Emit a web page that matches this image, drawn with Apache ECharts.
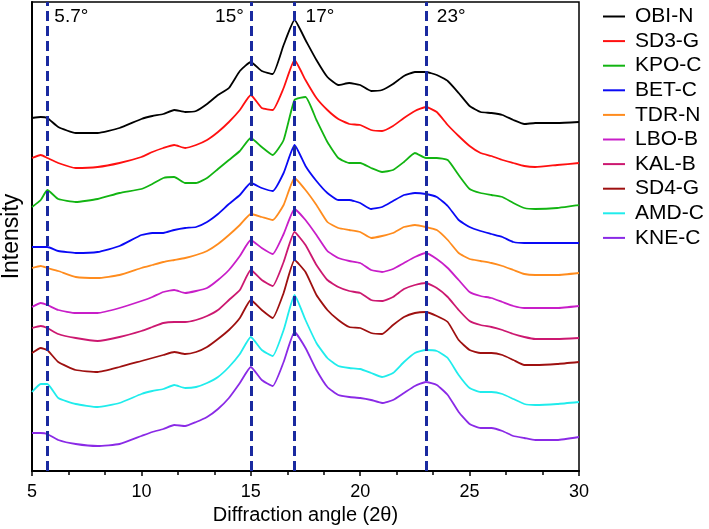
<!DOCTYPE html>
<html>
<head>
<meta charset="utf-8">
<script src="https://cdn.jsdelivr.net/npm/echarts@6/dist/echarts.min.js"></script>
<style>
    html, body { margin: 0; padding: 0; background: #fff; }
    #xrd { width: 709px; height: 529px; }
</style>
</head>
<body>
<div id="xrd"></div>
<script>
// 2θ sampling points shared by all patterns
const angles = [5, 5.4, 5.7, 6.2, 7, 8, 9, 10, 10.5, 11, 11.5, 12, 12.5, 13, 13.5, 14, 14.5, 15, 15.5, 16,
    16.5, 17, 17.5, 18, 18.5, 19, 19.5, 20, 20.5, 21, 21.5, 22, 22.5, 23, 23.5, 24, 24.5, 25, 25.5, 26,
    26.5, 27, 27.5, 28, 29, 30];

const sampleNames = ['OBI-N', 'SD3-G', 'KPO-C', 'BET-C', 'TDR-N', 'LBO-B', 'KAL-B', 'SD4-G', 'AMD-C', 'KNE-C'];
const sampleColors = ['#000000', '#ff1010', '#12b412', '#0a0af5', '#ff8c1e', '#c81ec8', '#cc1870', '#9e1010', '#20ecec', '#8a2ae6'];

// stacked intensities (a.u., offset per sample)
const obiN = [353, 354, 353, 344, 338, 338, 343, 352, 355, 357, 361, 359, 360, 367, 376, 383, 400, 409, 400, 397,
    426, 451, 431, 411, 394, 386, 388, 386, 380, 381, 387, 395, 399, 399, 396, 390, 378, 365, 359, 358,
    356, 351, 347, 348, 348, 349];
const sd3G = [313, 316, 313, 308, 303, 304, 308, 314, 319, 323, 326, 323, 326, 331, 339, 349, 361, 376, 363, 361,
    383, 411, 391, 373, 361, 352, 347, 346, 341, 340, 345, 353, 360, 364, 359, 346, 335, 325, 318, 315,
    311, 308, 305, 304, 306, 308];
const kpoC = [264, 271, 281, 272, 269, 272, 278, 282, 287, 293, 294, 288, 288, 293, 302, 311, 320, 333, 324, 316,
    331, 371, 374, 351, 329, 313, 308, 308, 303, 299, 301, 309, 318, 313, 313, 311, 296, 282, 278, 276,
    274, 268, 263, 262, 263, 266];
const betC = [224, 224, 224, 220, 218, 219, 225, 236, 238, 238, 241, 243, 244, 249, 257, 267, 276, 288, 283, 280,
    298, 326, 305, 290, 278, 271, 271, 268, 262, 264, 270, 276, 278, 277, 274, 265, 251, 244, 240, 237,
    234, 229, 228, 228, 228, 228];
const tdrN = [203, 205, 203, 200, 194, 193, 196, 203, 206, 209, 211, 213, 216, 220, 227, 236, 246, 257, 254, 251,
    266, 293, 281, 266, 249, 243, 241, 239, 233, 235, 238, 244, 246, 244, 241, 231, 218, 212, 210, 208,
    205, 201, 197, 196, 196, 198];
const lboB = [164, 168, 166, 161, 158, 158, 163, 170, 174, 179, 181, 178, 180, 183, 191, 201, 215, 231, 223, 217,
    237, 262, 251, 236, 220, 213, 210, 208, 201, 199, 202, 208, 214, 218, 212, 203, 191, 179, 175, 173,
    169, 165, 163, 163, 163, 165];
const kalB = [143, 145, 143, 137, 133, 130, 134, 140, 144, 148, 149, 149, 151, 155, 161, 171, 181, 201, 191, 185,
    209, 239, 226, 206, 191, 184, 180, 178, 171, 170, 174, 182, 186, 188, 183, 174, 161, 150, 146, 144,
    141, 137, 134, 132, 132, 133];
const sd4G = [118, 123, 121, 109, 101, 99, 104, 110, 113, 116, 119, 117, 119, 124, 132, 141, 153, 171, 161, 153,
    178, 211, 199, 176, 161, 151, 144, 143, 138, 137, 146, 154, 158, 159, 155, 149, 131, 121, 118, 118,
    116, 111, 106, 106, 107, 109];
const amdC = [79, 87, 87, 73, 67, 64, 68, 77, 80, 82, 86, 83, 84, 88, 94, 104, 117, 134, 121, 115,
    141, 176, 151, 128, 113, 105, 103, 102, 98, 94, 98, 109, 118, 121, 120, 113, 96, 83, 79, 79,
    77, 72, 67, 66, 67, 69];
const kneC = [38, 38, 37, 31, 27, 25, 27, 35, 39, 42, 46, 45, 49, 54, 62, 73, 88, 104, 91, 85,
    109, 139, 123, 101, 84, 76, 74, 73, 71, 68, 71, 78, 85, 89, 86, 76, 59, 47, 43, 43,
    40, 35, 33, 31, 31, 34];
const patterns = [obiN, sd3G, kpoC, betC, tdrN, lboB, kalB, sd4G, amdC, kneC];

// reference peak positions
const peakAngles = [5.7, 15, 17, 23];
const peakLabels = ['5.7°', '15°', '17°', '23°'];

const xTicks = [5, 10, 15, 20, 25, 30];

const FONT = '"Liberation Sans", Arial, sans-serif';
const chart = echarts.init(document.getElementById('xrd'));

let series = patterns.map((vals, k) => ({
    name: sampleNames[k],
    type: 'line',
    showSymbol: false,
    symbol: 'none',
    smooth: 0.15,
    data: angles.map((a, i) => [a, vals[i]]),
    lineStyle: { color: sampleColors[k], width: 1.8 },
    itemStyle: { color: sampleColors[k] },
    z: 3,
}));

// peak marker lines + labels
series.push({
    name: 'peaks',
    type: 'scatter',
    symbolSize: 0,
    silent: true,
    itemStyle: { opacity: 1 },
    data: peakAngles.map((a, i) => ({
        value: [a, 454],
        label: {
            show: true,
            formatter: peakLabels[i],
            position: i === 1 ? 'left' : 'right',
            distance: i >= 2 ? 11 : 7,
        },
    })),
    label: { color: '#000', fontSize: 19, fontFamily: FONT },
    markLine: {
        silent: true,
        symbol: 'none',
        label: { show: false },
        lineStyle: { color: '#1a2aa0', width: 3, type: [10, 5], opacity: 1 },
        data: peakAngles.map((a) => ({ xAxis: a })),
    },
    z: 2,
});

const option = {
    animation: false,
    backgroundColor: '#fff',
    grid: {
        left: 32, right: 130, top: 2, bottom: 58,
        containLabel: false,
        outerBoundsMode: 'none',
        show: true, borderColor: '#000', borderWidth: 1.5,
    },
    legend: {
        data: sampleNames,
        orient: 'vertical',
        left: 603,
        top: 6,
        padding: 0,
        icon: 'rect',
        itemWidth: 22,
        itemHeight: 2,
        itemGap: 3.6,
        textStyle: { color: '#000', fontSize: 21, fontFamily: FONT, lineHeight: 20, padding: [0, 0, 0, 5] },
    },
    xAxis: {
        type: 'value',
        min: 5, max: 30, interval: 5,
        name: 'Diffraction angle (2θ)',
        nameLocation: 'middle',
        nameGap: 33,
        nameTextStyle: { color: '#000', fontSize: 20, fontFamily: FONT },
        axisLine: { show: true, lineStyle: { color: '#000', width: 2 } },
        axisTick: { show: true, inside: false, length: 5, lineStyle: { color: '#000', width: 1.5 } },
        minorTick: { show: true, splitNumber: 3, length: 4, lineStyle: { color: '#000', width: 1.5 } },
        axisLabel: {
            color: '#000', fontSize: 18, fontFamily: FONT, margin: 12,
            formatter: (v) => (xTicks.includes(v) ? String(v) : ''),
        },
        splitLine: { show: false },
    },
    yAxis: {
        type: 'value',
        min: 0, max: 469,
        name: 'Intensity',
        nameLocation: 'middle',
        nameGap: 9,
        nameTextStyle: { color: '#000', fontSize: 23, fontFamily: FONT },
        axisLine: { show: true, lineStyle: { color: '#000', width: 2 } },
        axisTick: { show: false },
        axisLabel: { show: false },
        splitLine: { show: false },
    },
    series: series,
};
chart.setOption(option);
</script>
</body>
</html>
